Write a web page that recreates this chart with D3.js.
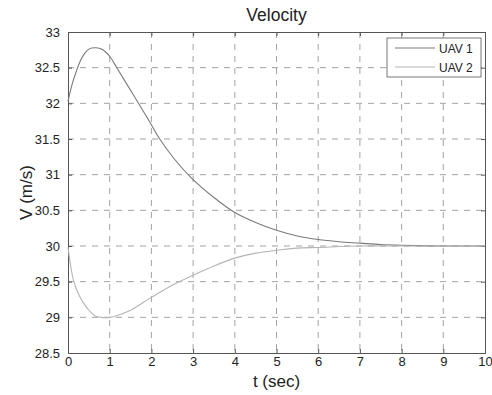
<!DOCTYPE html>
<html>
<head>
<meta charset="utf-8">
<script src="https://cdn.jsdelivr.net/npm/d3@7"></script>
<style>
  body { margin: 0; background: #fff; }
  text { font-family: Arial, "Liberation Sans", sans-serif; fill: #222; }
</style>
</head>
<body>
<div id="chart"></div>
<script>
// values
var xTicks = [0, 1, 2, 3, 4, 5, 6, 7, 8, 9, 10];
var yTicks = [28.5, 29, 29.5, 30, 30.5, 31, 31.5, 32, 32.5, 33];
var seriesNames = ["UAV 1", "UAV 2"];

var t1 = [0, 0.1, 0.2, 0.3, 0.4, 0.5, 0.65, 0.8, 0.9, 1.0, 1.17, 1.4, 1.69, 1.95, 2.2, 2.55, 2.95, 3.5, 4, 4.5, 5, 5.5, 6, 6.5, 7, 7.5, 8, 9, 10];
var v1 = [32.03, 32.27, 32.45, 32.6, 32.7, 32.76, 32.78, 32.76, 32.72, 32.66, 32.5, 32.28, 32.0, 31.75, 31.5, 31.22, 30.96, 30.68, 30.47, 30.33, 30.22, 30.14, 30.09, 30.06, 30.04, 30.02, 30.01, 30.0, 30.0];

var t2 = [0, 0.07, 0.14, 0.25, 0.35, 0.5, 0.65, 0.8, 1.0, 1.2, 1.5, 2, 2.5, 3, 3.5, 4, 4.5, 5, 5.5, 6, 7, 8, 9, 10];
var v2 = [29.98, 29.7, 29.5, 29.33, 29.22, 29.1, 29.02, 29.0, 29.0, 29.03, 29.1, 29.28, 29.45, 29.59, 29.72, 29.83, 29.9, 29.94, 29.97, 29.98, 30.0, 30.0, 30.0, 30.0];

var colors = ["#7a7a7a", "#b4b4b4"];

function drawChart() {
  var margin = {top: 32, right: 7, bottom: 42, left: 68},
      width = 492 - margin.left - margin.right,
      height = 395 - margin.top - margin.bottom;

  var svg = d3.select("#chart")
    .append("svg")
      .attr("width", 492)
      .attr("height", 395);

  var g = svg.append("g")
    .attr("transform", "translate(" + margin.left + "," + margin.top + ")");

  var x = d3.scaleLinear().domain([0, 10]).range([0, width]);
  var y = d3.scaleLinear().domain([28.5, 33]).range([height, 0]);

  // dashed grid
  g.append("g").selectAll("line")
    .data(xTicks.slice(1, -1))
    .join("line")
      .attr("x1", function(d) { return x(d); })
      .attr("x2", function(d) { return x(d); })
      .attr("y1", 0).attr("y2", height)
      .attr("stroke", "#8c8c8c")
      .attr("stroke-width", 0.8)
      .attr("stroke-dasharray", "6,6");
  g.append("g").selectAll("line")
    .data(yTicks.slice(1, -1))
    .join("line")
      .attr("y1", function(d) { return y(d); })
      .attr("y2", function(d) { return y(d); })
      .attr("x1", 0).attr("x2", width)
      .attr("stroke", "#8c8c8c")
      .attr("stroke-width", 0.8)
      .attr("stroke-dasharray", "6,6");

  // axes, ticks pointing inwards
  var xAxis = g.append("g")
    .attr("transform", "translate(0," + height + ")")
    .call(d3.axisBottom(x).tickValues(xTicks).tickSize(-4).tickPadding(4));
  var yAxis = g.append("g")
    .call(d3.axisLeft(y).tickValues(yTicks).tickSize(-4).tickPadding(8)
      .tickFormat(function(d) { return d; }));
  g.append("g")
    .attr("transform", "translate(" + width + ",0)")
    .call(d3.axisRight(y).tickValues(yTicks).tickSize(-4).tickFormat(""));
  g.append("g")
    .call(d3.axisTop(x).tickValues(xTicks).tickSize(-4).tickFormat(""));

  g.selectAll(".domain").attr("stroke", "#555");
  g.selectAll(".tick line").attr("stroke", "#555");
  xAxis.selectAll("text").style("font-size", "13px").attr("fill", "#222");
  yAxis.selectAll("text").style("font-size", "13px").attr("fill", "#222");

  // lines
  var line = d3.line()
    .x(function(d) { return x(d[0]); })
    .y(function(d) { return y(d[1]); })
    .curve(d3.curveCatmullRom.alpha(0.5));

  var data1 = t1.map(function(t, i) { return [t, v1[i]]; });
  var data2 = t2.map(function(t, i) { return [t, v2[i]]; });

  [data1, data2].forEach(function(d, i) {
    g.append("path")
      .datum(d)
      .attr("fill", "none")
      .attr("stroke", colors[i])
      .attr("stroke-width", 1.1)
      .attr("d", line);
  });

  // legend
  var lg = svg.append("g").attr("transform", "translate(387,38)");
  lg.append("rect")
    .attr("width", 94).attr("height", 39)
    .attr("fill", "#fff")
    .attr("stroke", "#555")
    .attr("stroke-width", 0.8);
  seriesNames.forEach(function(name, i) {
    lg.append("line")
      .attr("x1", 8).attr("x2", 48)
      .attr("y1", 10 + i * 19).attr("y2", 10 + i * 19)
      .attr("stroke", colors[i])
      .attr("stroke-width", 1.1);
    lg.append("text")
      .attr("x", 52).attr("y", 14.5 + i * 19)
      .style("font-size", "12px")
      .text(name);
  });

  // titles
  svg.append("text")
    .attr("x", margin.left + width / 2).attr("y", 21)
    .attr("text-anchor", "middle")
    .style("font-size", "17.5px")
    .text("Velocity");
  svg.append("text")
    .attr("x", margin.left + width / 2).attr("y", 387)
    .attr("text-anchor", "middle")
    .style("font-size", "17px")
    .text("t (sec)");
  svg.append("text")
    .attr("transform", "translate(32," + (margin.top + height / 2) + ") rotate(-90)")
    .attr("text-anchor", "middle")
    .style("font-size", "17px")
    .text("V (m/s)");
}
drawChart();
</script>
</body>
</html>
